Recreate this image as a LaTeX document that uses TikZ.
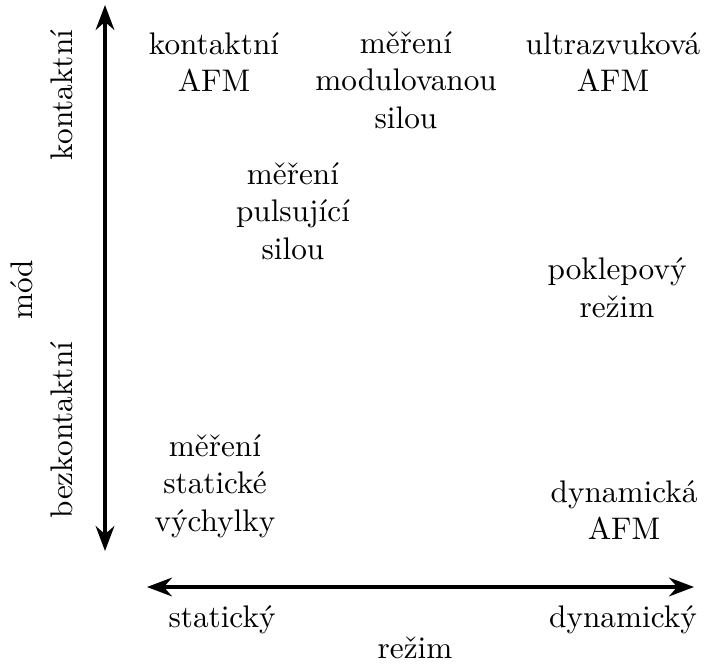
\documentclass[tikz,border=0pt]{standalone}
\usetikzlibrary{arrows.meta}
\begin{document}
\begin{tikzpicture}[x=0.32pt,y=-0.32pt,
  lbl/.style={align=center,inner sep=0pt},
  axis/.style={line width=1pt,{Stealth[length=8pt,width=6pt]}-{Stealth[length=8pt,width=6pt]}}]
\useasboundingbox (0,0) rectangle (704,663);
\coordinate (vt) at (105,5);
\coordinate (vb) at (105,551);
\coordinate (hl) at (147,587);
\coordinate (hr) at (694,587);
\draw[axis] (vt) -- (vb);
\draw[axis] (hl) -- (hr);
\node[lbl] (a1) at (214,62) {kontaktní\\AFM};
\node[lbl] (a2) at (406,80) {měření\\modulovanou\\silou};
\node[lbl] (a3) at (613,62) {ultrazvuková\\AFM};
\node[lbl] (a4) at (293,211) {měření\\pulsující\\silou};
\node[lbl] (a5) at (617,288) {poklepový\\režim};
\node[lbl] (a6) at (215,486) {měření\\statické\\výchylky};
\node[lbl] (a7) at (624,510) {dynamická\\AFM};
\node[lbl] (s) at (222,620) {statický};
\node[lbl] (d) at (623,620) {dynamický};
\node[lbl] (r) at (415,648) {režim};
\node[lbl,rotate=90] (k) at (62,95) {kontaktní};
\node[lbl,rotate=90] (b) at (62,430) {bezkontaktní};
\node[lbl,rotate=90] (m) at (22,290) {mód};
\end{tikzpicture}
\end{document}
